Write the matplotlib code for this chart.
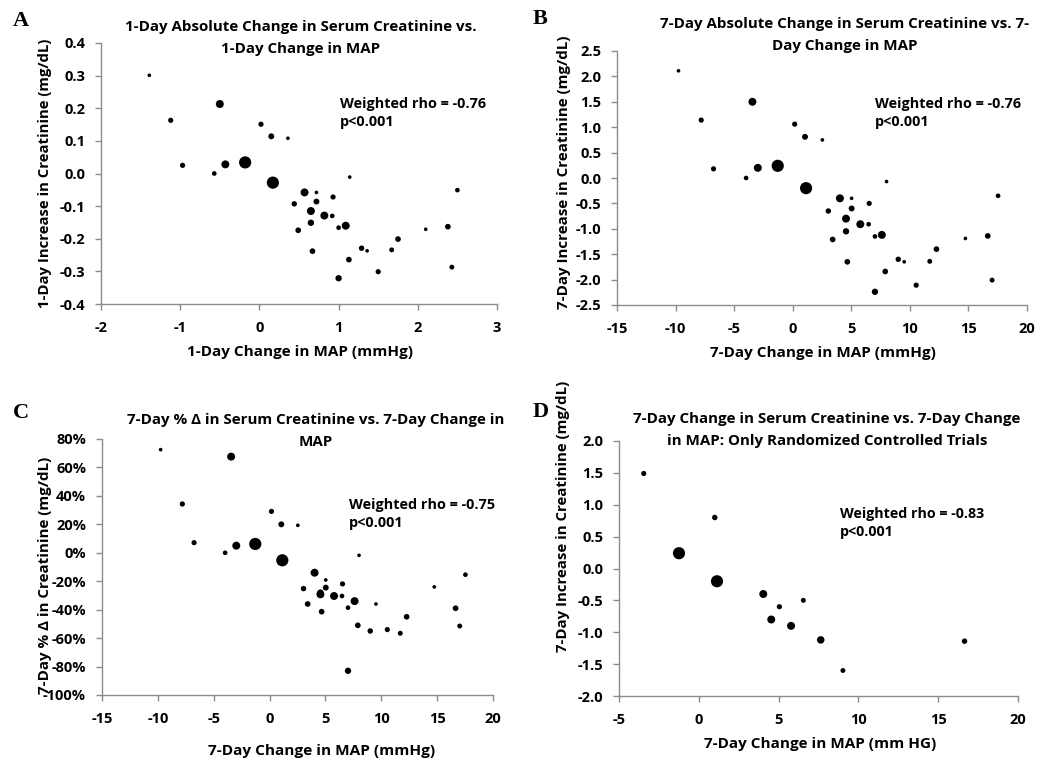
import matplotlib
matplotlib.use('Agg')
import matplotlib.pyplot as plt
from matplotlib.ticker import FuncFormatter

# ---- data ----
# panel A: 1-day change in MAP vs 1-day change in creatinine
map_1d = [-1.39, -0.50, -1.12, -0.97, -0.57, -0.43, -0.18, 0.02, 0.15, 0.36,
          0.17, 1.14, 2.50, 0.57, 0.72, 0.44, 0.72, 0.93, 0.65, 0.82,
          0.92, 0.65, 0.49, 1.00, 1.09, 2.10, 2.38, 1.75, 0.67, 1.29,
          1.36, 1.67, 1.13, 1.00, 1.50, 2.43]
cr_1d = [0.301, 0.213, 0.163, 0.025, 0.000, 0.028, 0.034, 0.151, 0.114, 0.108,
         -0.028, -0.011, -0.051, -0.058, -0.058, -0.093, -0.086, -0.072, -0.115, -0.129,
         -0.130, -0.151, -0.174, -0.166, -0.160, -0.171, -0.163, -0.201, -0.238, -0.229,
         -0.237, -0.234, -0.264, -0.321, -0.301, -0.287]

# panels B and C: 7-day change in MAP
map_7d = [-9.75, -3.44, -7.81, -6.76, -3.98, -2.98, -1.28, 0.17, 1.05, 2.53,
          1.14, 8.01, 17.53, 4.03, 5.03, 3.04, 5.03, 6.53, 4.55, 5.77,
          6.48, 4.55, 3.41, 7.02, 7.61, 14.74, 16.65, 12.27, 4.66, 9.01,
          9.52, 11.70, 7.90, 7.02, 10.54, 17.02]
cr_7d = [2.11, 1.50, 1.14, 0.18, 0.00, 0.20, 0.24, 1.06, 0.81, 0.75,
         -0.20, -0.07, -0.35, -0.40, -0.40, -0.65, -0.60, -0.50, -0.80, -0.91,
         -0.91, -1.05, -1.21, -1.15, -1.12, -1.19, -1.14, -1.40, -1.65, -1.60,
         -1.65, -1.64, -1.84, -2.24, -2.11, -2.01]
cr_7d_pct = [72.5, 67.6, 34.3, 7.1, 0.0, 5.0, 6.2, 29.1, 20.0, 19.3,
             -5.3, -1.8, -15.4, -14.0, -19.1, -25.2, -24.5, -21.9, -29.2, -30.4,
             -30.4, -28.0, -36.0, -38.6, -34.0, -24.0, -39.0, -45.0, -41.4, -55.0,
             -36.0, -56.6, -51.0, -83.0, -54.0, -51.5]
# relative study weights (marker area)
weights = [1, 4.7, 2, 2, 1.6, 4.7, 11, 2, 2.6, 1,
           11, 1, 1.6, 4.7, 1, 2.2, 2.6, 2, 4.7, 4.7,
           1.6, 3, 2.4, 1.6, 4.7, 1, 2.4, 2.4, 2.4, 2.2,
           1, 1.8, 2.4, 3, 2, 1.8]

# panel D: randomized controlled trials only
map_rct = [-3.45, 1.00, -1.24, 1.14, 4.04, 6.55, 5.05, 4.54, 5.78, 7.64, 16.65, 9.03]
cr_rct = [1.49, 0.80, 0.24, -0.20, -0.40, -0.50, -0.60, -0.80, -0.90, -1.12, -1.14, -1.60]
weights_rct = [2, 2.2, 11, 11, 4.7, 1.8, 2, 4.7, 4.7, 4.2, 2.2, 1.8]

W, H = 1044, 764
plt.rcParams['font.family'] = ['Open Sans', 'DejaVu Sans']
plt.rcParams['font.weight'] = 'bold'
plt.rcParams['axes.unicode_minus'] = False

fig = plt.figure(figsize=(W / 100, H / 100), dpi=100)
fig_px = matplotlib.transforms.Affine2D().scale(1 / W, -1 / H).translate(0, 1) + fig.transFigure
renderer = fig.canvas.get_renderer()


def fit(t, target, vertical=False):
    # scale the font so the text spans the same number of pixels as in the original
    bb = t.get_window_extent(renderer)
    size = bb.height if vertical else bb.width
    t.set_fontsize(t.get_fontsize() * target / size)


def make_axes(left, top, right, bottom):
    ax = fig.add_axes([left / W, 1 - bottom / H, (right - left) / W, (bottom - top) / H])
    for s in ['top', 'right']:
        ax.spines[s].set_visible(False)
    for s in ['left', 'bottom']:
        ax.spines[s].set_color('#8c8c8c')
        ax.spines[s].set_linewidth(1.0)
    ax.tick_params(direction='out', length=4, width=1, color='#8c8c8c',
                   labelsize=10.5)
    ax.tick_params(axis='y', pad=7.5)
    ax.tick_params(axis='x', pad=8)
    return ax


def bold_ticks(ax):
    for lab in ax.get_xticklabels() + ax.get_yticklabels():
        lab.set_fontweight('bold')


def decorate(letter, lpos, title, tpos, tw, xlabel, xlpos, xw, ylabel, ylpos, yh, note, npos, nw):
    fig.text(*lpos, letter, transform=fig_px, family='Liberation Serif',
             fontsize=16, fontweight='bold', ha='left', va='center')
    t = fig.text(*tpos, title, transform=fig_px, fontsize=11, fontweight='bold',
                 ha='center', va='center', linespacing=1.8)
    fit(t, tw)
    t = fig.text(*xlpos, xlabel, transform=fig_px, fontsize=11, fontweight='bold',
                 ha='center', va='center')
    fit(t, xw)
    t = fig.text(*ylpos, ylabel, transform=fig_px, fontsize=11, fontweight='bold',
                 ha='center', va='center', rotation=90)
    fit(t, yh, vertical=True)
    t = fig.text(*npos, note, transform=fig_px, fontsize=11, fontweight='bold',
                 ha='left', va='center', linespacing=1.4)
    fit(t, nw)


size_scale = 7

# A
ax = make_axes(101, 43, 497, 304)
ax.scatter(map_1d, cr_1d, s=[w * size_scale for w in weights], color='black', linewidths=0)
ax.set_xlim(-2, 3)
ax.set_ylim(-0.4, 0.4)
ax.set_xticks(range(-2, 4))
ax.set_yticks([i / 10 for i in range(-4, 5)])
ax.yaxis.set_major_formatter(FuncFormatter(lambda v, p: '%.1f' % v))
bold_ticks(ax)
decorate('A', (13, 21),
         '1-Day Absolute Change in Serum Creatinine vs.\n1-Day Change in MAP', (301, 38), 352,
         '1-Day Change in MAP (mmHg)', (300, 352), 226,
         '1-Day Increase in Creatinine (mg/dL)', (45, 173), 270,
         'Weighted rho = -0.76\np<0.001', (340, 113), 146)

# B
ax = make_axes(617, 51, 1027, 305)
ax.scatter(map_7d, cr_7d, s=[w * size_scale for w in weights], color='black', linewidths=0)
ax.set_xlim(-15, 20)
ax.set_ylim(-2.5, 2.5)
ax.set_xticks(range(-15, 21, 5))
ax.set_yticks([i / 2 for i in range(-5, 6)])
ax.yaxis.set_major_formatter(FuncFormatter(lambda v, p: '%.1f' % v))
bold_ticks(ax)
decorate('B', (533, 19),
         '7-Day Absolute Change in Serum Creatinine vs. 7-\nDay Change in MAP', (845, 35), 370,
         '7-Day Change in MAP (mmHg)', (823, 353), 226,
         '7-Day Increase in Creatinine (mg/dL)', (564, 172), 274,
         'Weighted rho = -0.76\np<0.001', (875, 113), 145)

# C
ax = make_axes(102, 439, 493, 695)
ax.scatter(map_7d, cr_7d_pct, s=[w * size_scale for w in weights], color='black', linewidths=0)
ax.set_xlim(-15, 20)
ax.set_ylim(-100, 80)
ax.set_xticks(range(-15, 21, 5))
ax.set_yticks(range(-100, 81, 20))
ax.yaxis.set_major_formatter(FuncFormatter(lambda v, p: '%d%%' % v))
bold_ticks(ax)
decorate('C', (13, 413),
         '7-Day % Δ in Serum Creatinine vs. 7-Day Change in\nMAP', (316, 431), 377,
         '7-Day Change in MAP (mmHg)', (322, 751), 227,
         '7-Day % Δ in Creatinine (mg/dL)', (45, 575), 237,
         'Weighted rho = -0.75\np<0.001', (349, 514), 146)

# D
ax = make_axes(619, 441, 1018, 696)
ax.scatter(map_rct, cr_rct, s=[w * size_scale for w in weights_rct], color='black', linewidths=0)
ax.set_xlim(-5, 20)
ax.set_ylim(-2.0, 2.0)
ax.set_xticks(range(-5, 21, 5))
ax.set_yticks([i / 2 for i in range(-4, 5)])
ax.yaxis.set_major_formatter(FuncFormatter(lambda v, p: '%.1f' % v))
bold_ticks(ax)
decorate('D', (533, 412),
         '7-Day Change in Serum Creatinine vs. 7-Day Change\nin MAP: Only Randomized Controlled Trials', (827, 430), 387,
         '7-Day Change in MAP (mm HG)', (820, 744), 232,
         '7-Day Increase in Creatinine (mg/dL)', (563, 516), 272,
         'Weighted rho = -0.83\np<0.001', (840, 523), 144)

fig.savefig('out.png', dpi=100)
